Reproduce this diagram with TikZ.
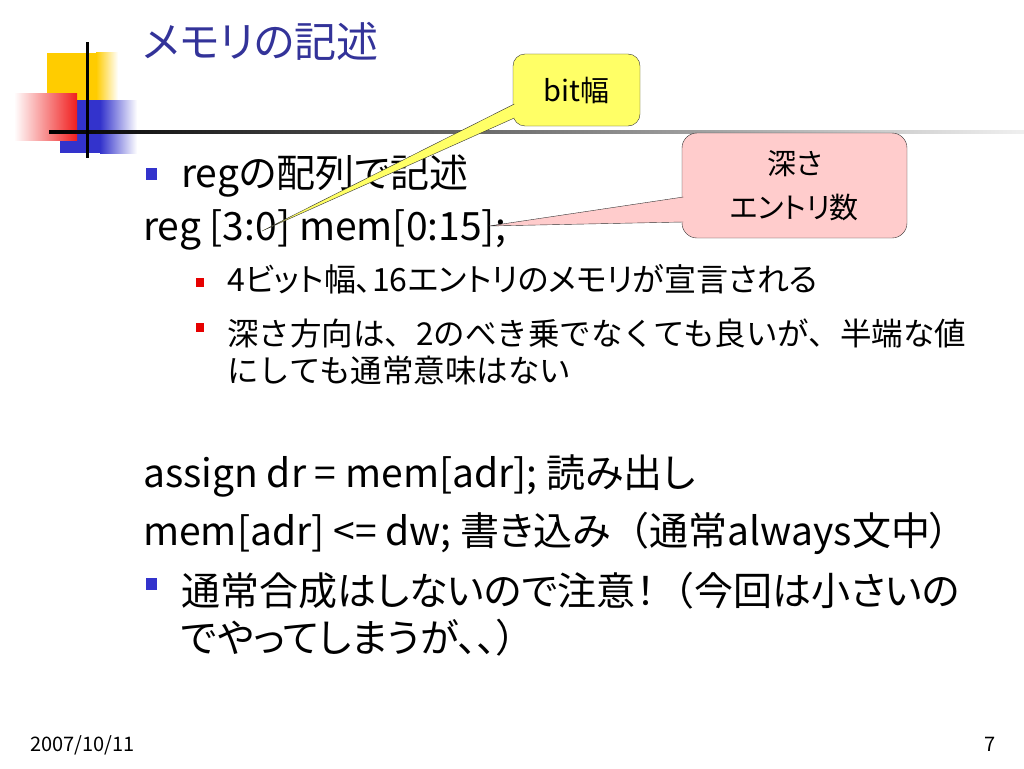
\documentclass[tikz,border=0pt]{standalone}
\usepackage{fontspec}
\setmainfont{Noto Sans CJK JP}[RawFeature=+palt]
\newfontfamily\jpfull{Noto Sans CJK JP}
\definecolor{titleblue}{RGB}{51,51,153}
\definecolor{bulblue}{RGB}{51,51,204}
\definecolor{bulred}{RGB}{230,0,0}
\definecolor{logoyel}{RGB}{255,204,0}
\definecolor{logored}{RGB}{240,30,30}
\definecolor{calyel}{RGB}{255,255,102}
\definecolor{calpink}{RGB}{255,204,204}
\begin{document}
\begin{tikzpicture}[x=1pt,y=-1pt,line join=round]
		\tikzset{ttl/.style={font=\fontsize{42}{50}\selectfont,text=titleblue,anchor=base west,inner sep=0pt},
			body/.style={font=\fontsize{39}{44}\selectfont,anchor=base west,inner sep=0pt},
			sub/.style={font=\fontsize{32}{36}\selectfont,anchor=base west,inner sep=0pt},
			subfull/.style={sub,font=\jpfull\fontsize{31.5}{36}\selectfont},
			foot/.style={font=\fontsize{20}{24}\selectfont,anchor=base west,inner sep=0pt},
			bluebul/.style={fill=bulblue,minimum width=11pt,minimum height=12pt,inner sep=0pt},
			redbul/.style={fill=bulred,minimum width=8pt,minimum height=9pt,inner sep=0pt},
			callbox/.style={draw=black!80,thin,rounded corners=12pt,inner sep=0pt,align=center,font=\fontsize{29}{44}\selectfont}}
		\useasboundingbox (0,0) rectangle (1024,768);
		% logo
		\fill[logoyel] (47,53) rectangle (96,100);
		\shade[left color=logoyel,right color=white] (96,53) rectangle (118,100);
		\fill[bulblue] (60,100) rectangle (100,153);
		\shade[left color=bulblue,right color=white] (100,100) rectangle (137,153);
		\shade[left color=white,right color=logored] (14,93) rectangle (77,140);
		\shade[left color=black,right color=black!6] (49,130.5) rectangle (1024,133.5);
		\fill (85.5,42) rectangle (88.5,158);
		% title
		\node[ttl] (title) at (143,57) {メモリの記述};
		% body
		\foreach \y/\n in {174/b1,584/b3}
		\node[bluebul] (\n) at (151,\y) {};
		\foreach \y/\n in {282/r1,327/r2}
		\node[redbul] (\n) at (200,\y) {};
		\node[body] (l1) at (181,187) {regの配列で記述};
		\node[body] (l2) at (143,240) {reg [3:0] mem[0:15];};
		\node[sub] (s1) at (227,291) {4ビット幅、16エントリのメモリが宣言される};
		\node[subfull] (s2) at (227,345) {深さ方向は、2のべき乗でなくても良いが、半端な値};
		\node[subfull] (s2b) at (227,382) {にしても通常意味はない};
		\node[body] (l3) at (143,487) {assign dr = mem[adr]; 読み出し};
		\node[body] (l4) at (143,545) {mem[adr] <= dw; 書き込み{\jpfull （}通常always文中）};
		\node[body] (l5) at (181,605) {通常合成はしないので注意！{\jpfull （}今回は小さいの};
		\node[body] (l5b) at (181,652) {でやってしまうが、、）};
		% callouts
		\node[callbox,fill=calyel,minimum width=127pt,minimum height=72pt] (bw) at (576.5,90) {bit幅};
		\coordinate (bwtip) at (262,231);
		\filldraw[calyel,draw=black!80,thin] ([xshift=1.5pt]bw.west |- 0,104) -- (bwtip) -- ([xshift=1.5pt]bw.west |- 0,118);
		\node[callbox,fill=calpink,rounded corners=15pt,minimum width=225pt,minimum height=105pt] (dp) at (794.5,185.5) {深さ\\エントリ数};
		\coordinate (dptip) at (489,226);
		\filldraw[calpink,draw=black!80,thin] ([xshift=1.5pt]dp.west |- 0,197) -- (dptip) -- ([xshift=1.5pt]dp.west |- 0,222);
		% footer
		\node[foot] (date) at (30,751) {2007/10/11};
		\node[foot] (page) at (984,751) {7};
\end{tikzpicture}
\end{document}
